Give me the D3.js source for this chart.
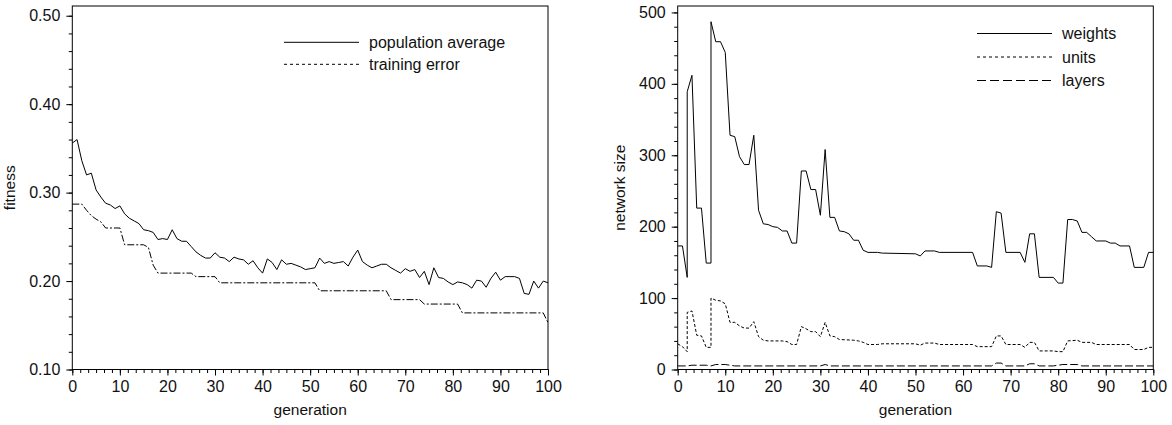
<!DOCTYPE html>
<html>
<head>
<meta charset="utf-8">
<script src="https://cdn.jsdelivr.net/npm/d3@7"></script>
<style>
  body { margin: 0; background: #fff; }
  svg text { font-family: "Liberation Sans", Arial, sans-serif; fill: #111; }
</style>
</head>
<body>
<svg id="chart" width="1172" height="425"></svg>
<script>
// fitness per generation (index = generation)
var popAverage = [0.356, 0.360, 0.336, 0.320, 0.322, 0.303, 0.295, 0.288, 0.286, 0.282,
  0.285, 0.276, 0.271, 0.268, 0.265, 0.258, 0.257, 0.255, 0.247, 0.248,
  0.247, 0.258, 0.248, 0.245, 0.245, 0.239, 0.233, 0.229, 0.226, 0.226,
  0.232, 0.227, 0.226, 0.222, 0.227, 0.225, 0.224, 0.219, 0.223, 0.215,
  0.209, 0.225, 0.221, 0.213, 0.224, 0.219, 0.220, 0.218, 0.216, 0.213,
  0.214, 0.215, 0.226, 0.220, 0.222, 0.220, 0.221, 0.222, 0.217, 0.227,
  0.235, 0.222, 0.218, 0.215, 0.217, 0.219, 0.219, 0.215, 0.212, 0.209,
  0.214, 0.211, 0.213, 0.204, 0.211, 0.196, 0.215, 0.204, 0.203, 0.199,
  0.196, 0.199, 0.198, 0.196, 0.192, 0.201, 0.200, 0.193, 0.203, 0.210,
  0.201, 0.205, 0.205, 0.205, 0.203, 0.186, 0.185, 0.200, 0.192, 0.200, 0.198];

// [generation, value]
var trainingError = [[0,0.287],[2,0.287],[3,0.280],[4,0.274],[5,0.270],[6,0.267],[7,0.260],[10,0.260],
  [11,0.241],[15,0.241],[16,0.238],[17,0.218],[18,0.209],[25,0.209],[26,0.205],[30,0.205],
  [31,0.198],[51,0.198],[52,0.189],[66,0.189],[67,0.179],[73,0.179],[74,0.174],[81,0.174],
  [82,0.164],[99,0.164],[100,0.153]];

var weights = [[0,173],[1,173],[2,129],[2,389],[3,412],[4,226],[5,226],[6,149],[7,149],[7,487],
  [8,459],[9,459],[10,444],[11,328],[12,326],[13,298],[14,287],[15,287],[16,328],[17,223],
  [18,204],[19,203],[20,200],[21,199],[22,194],[23,194],[24,177],[25,177],[26,278],[27,278],
  [28,252],[29,252],[30,216],[31,308],[32,213],[33,213],[34,194],[35,193],[36,190],[37,181],
  [38,181],[39,167],[40,164],[42,164],[43,163],[50,162],[51,159],[52,166],[54,166],[55,164],
  [62,164],[63,145],[65,145],[66,143],[67,221],[68,219],[69,164],[72,164],[73,150],[74,190],
  [75,190],[76,129],[79,129],[80,121],[81,121],[82,210],[83,210],[84,208],[85,192],[86,192],
  [87,186],[88,180],[90,180],[91,177],[92,177],[93,173],[95,173],[96,143],[98,143],[99,164],[100,164]];

var units = [[0,36],[1,32],[2,25],[2,80],[3,82],[4,48],[5,47],[6,31],[7,31],[7,100],[8,97],[9,96],
  [10,92],[11,66],[12,66],[13,61],[14,58],[15,58],[16,67],[17,46],[18,41],[19,40],[22,40],[23,39],
  [24,35],[25,35],[26,60],[27,57],[28,53],[29,53],[30,46],[31,66],[32,47],[33,46],[34,42],[37,41],
  [38,40],[39,38],[40,35],[42,35],[43,36],[50,36],[51,34],[52,37],[54,37],[55,35],[62,35],[63,32],
  [66,32],[67,47],[68,47],[69,35],[72,35],[73,31],[74,38],[75,38],[76,26],[79,26],[80,25],[81,25],
  [82,40],[84,41],[85,38],[87,38],[88,35],[95,35],[96,28],[98,28],[99,31],[100,31]];

var layers = [[0,5],[2,5],[3,6],[6,6],[7,5],[8,7],[10,7],[11,6],[12,5],[30,5],[31,7],[32,5],
  [66,5],[67,9],[68,9],[69,5],[73,5],[74,8],[75,8],[76,5],[79,5],[80,6],[81,7],[84,7],[85,5],[100,5]];

var genTicks = d3.range(0, 101, 10);
var fitTicks = [0.10, 0.20, 0.30, 0.40, 0.50];
var sizeTicks = [0, 100, 200, 300, 400, 500];

var svg = d3.select("#chart");
var plotTop = 6, plotBottom = 369.5;

function panel(opt) {
  var x = d3.scaleLinear().domain([0, 100]).range([opt.left, opt.right]);
  var y = d3.scaleLinear().domain(opt.yDomain).range([plotBottom, plotTop]);
  var g = svg.append("g");

  // frame
  g.append("rect")
    .attr("x", opt.left).attr("y", plotTop)
    .attr("width", opt.right - opt.left).attr("height", plotBottom - plotTop)
    .attr("fill", "none").attr("stroke", "#000").attr("stroke-width", 1);

  // x axis: minor then major ticks
  var xMinor = d3.range(0, 100.01, 10 / 6);
  g.append("g").attr("transform", "translate(0," + plotBottom + ")")
    .call(d3.axisBottom(x).tickValues(xMinor).tickSize(3.5).tickFormat(""))
    .call(a => a.select(".domain").remove());
  g.append("g").attr("transform", "translate(0," + plotBottom + ")")
    .call(d3.axisBottom(x).tickValues(genTicks).tickSize(6).tickPadding(5))
    .call(a => a.select(".domain").remove())
    .call(a => a.selectAll("text").style("font-size", "16px"));

  // y axis
  g.append("g").attr("transform", "translate(" + opt.left + ",0)")
    .call(d3.axisLeft(y).tickValues(opt.yMinor).tickSize(3.5).tickFormat(""))
    .call(a => a.select(".domain").remove());
  g.append("g").attr("transform", "translate(" + opt.left + ",0)")
    .call(d3.axisLeft(y).tickValues(opt.yTicks).tickSize(6).tickPadding(6).tickFormat(opt.fmt))
    .call(a => a.select(".domain").remove())
    .call(a => a.selectAll("text").style("font-size", "16px"));

  g.selectAll(".tick line").attr("stroke", "#000");

  // axis titles
  g.append("text")
    .attr("x", (opt.left + opt.right) / 2).attr("y", 415)
    .attr("text-anchor", "middle").style("font-size", "15.5px")
    .text("generation");
  g.append("text")
    .attr("transform", "translate(" + opt.titleX + "," + ((plotTop + plotBottom) / 2) + ") rotate(-90)")
    .attr("text-anchor", "middle").style("font-size", "15.5px")
    .text(opt.yTitle);

  var line = d3.line().x(d => x(d[0])).y(d => y(d[1]));
  opt.series.forEach(function(s, i) {
    g.append("path").datum(s.data)
      .attr("d", line)
      .attr("fill", "none").attr("stroke", "#000").attr("stroke-width", 1)
      .attr("stroke-dasharray", s.dash);

    var ly = opt.legY + i * opt.legStep;
    g.append("line")
      .attr("x1", opt.legX).attr("x2", opt.legX + 75)
      .attr("y1", ly).attr("y2", ly)
      .attr("stroke", "#000").attr("stroke-width", 1)
      .attr("stroke-dasharray", s.legDash);
    g.append("text")
      .attr("x", opt.legX + 85).attr("y", ly + 5.5)
      .style("font-size", "16px")
      .text(s.name);
  });
}

panel({
  left: 72.3, right: 548,
  yDomain: [0.10, 0.511],
  yTicks: fitTicks, yMinor: d3.range(0.10, 0.501, 0.02),
  fmt: d3.format(".2f"),
  yTitle: "fitness", titleX: 15,
  legX: 284, legY: 42.3, legStep: 22,
  series: [
    {name: "population average", data: popAverage.map((v, i) => [i, v]), dash: null, legDash: null},
    {name: "training error", data: trainingError, dash: "7,2,2,2", legDash: "3,3"}
  ]
});

panel({
  left: 677.7, right: 1153.3,
  yDomain: [0, 509],
  yTicks: sizeTicks, yMinor: d3.range(0, 501, 20),
  fmt: d3.format("d"),
  yTitle: "network size", titleX: 625,
  legX: 977, legY: 33.5, legStep: 23.5,
  series: [
    {name: "weights", data: weights, dash: null, legDash: null},
    {name: "units", data: units, dash: "3,2", legDash: "3,3"},
    {name: "layers", data: layers, dash: "8,3", legDash: "9,4"}
  ]
});
</script>
</body>
</html>
